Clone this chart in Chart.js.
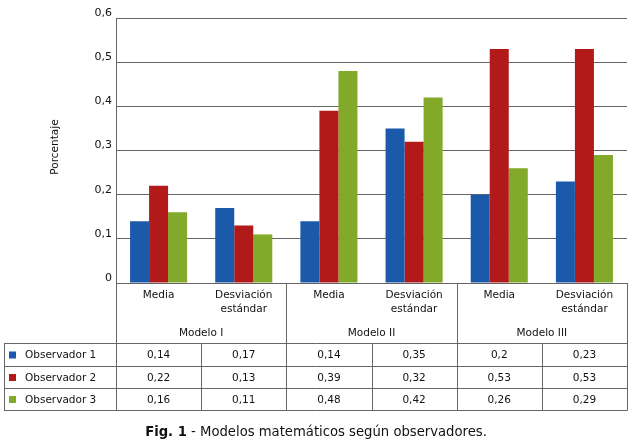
<!DOCTYPE html>
<html>
<head>
<meta charset="utf-8">
<script src="https://cdn.jsdelivr.net/npm/chart.js@4"></script>
<style>
  body { margin: 0; background: #fff; }
  #wrap { width: 633px; height: 443px; }
</style>
</head>
<body>
<div id="wrap"><canvas id="chart" width="633" height="443"></canvas></div>
<script>
// Chart data
const categories = ["Media", ["Desviación", "estándar"], "Media", ["Desviación", "estándar"], "Media", ["Desviación", "estándar"]];
const groups = ["Modelo I", "Modelo II", "Modelo III"];
const seriesNames = ["Observador 1", "Observador 2", "Observador 3"];
const observador1 = [0.14, 0.17, 0.14, 0.35, 0.2, 0.23];
const observador2 = [0.22, 0.13, 0.39, 0.32, 0.53, 0.53];
const observador3 = [0.16, 0.11, 0.48, 0.42, 0.26, 0.29];
const seriesColors = ["#1b5aab", "#b21a1a", "#82a929"];

const FONT = "DejaVu Sans, Verdana, sans-serif";
const LINE = "#666666";

function fmt(v) {
  return String(v).replace(".", ",");
}

// Draws category labels, data table, legend keys and caption under the plot
const tablePlugin = {
  id: "tablePlugin",
  afterDraw(chart) {
    const ctx = chart.ctx;
    const x = chart.scales.x;
    const area = chart.chartArea;
    const step = (area.right - area.left) / categories.length;
    const rowLines = [343, 366, 388, 410];
    const tableLeft = 4;

    ctx.save();
    ctx.strokeStyle = LINE;
    ctx.lineWidth = 1;

    // horizontal table lines
    rowLines.forEach((y) => {
      ctx.beginPath();
      ctx.moveTo(tableLeft, y + 0.5);
      ctx.lineTo(Math.round(area.right) + 0.5, y + 0.5);
      ctx.stroke();
    });

    // vertical lines
    for (let i = 0; i <= categories.length; i++) {
      const px = Math.round(area.left + i * step) + 0.5;
      const top = i % 2 === 0 ? area.bottom : rowLines[0];
      ctx.beginPath();
      ctx.moveTo(px, top);
      ctx.lineTo(px, rowLines[3] + 0.5);
      ctx.stroke();
    }
    ctx.beginPath();
    ctx.moveTo(tableLeft + 0.5, rowLines[0]);
    ctx.lineTo(tableLeft + 0.5, rowLines[3] + 0.5);
    ctx.stroke();

    ctx.fillStyle = "#111";
    ctx.font = "10.5px " + FONT;
    ctx.textAlign = "center";
    ctx.textBaseline = "middle";

    // category labels
    categories.forEach((c, i) => {
      const cx = x.getPixelForValue(i);
      const lines = Array.isArray(c) ? c : [c];
      lines.forEach((l, j) => ctx.fillText(l, cx, 295 + j * 14));
    });

    // group labels
    groups.forEach((g, i) => {
      const cx = area.left + (i * 2 + 1) * step;
      ctx.fillText(g, cx, 333);
    });

    // table rows
    const rows = [observador1, observador2, observador3];
    rows.forEach((vals, r) => {
      const cy = (rowLines[r] + rowLines[r + 1]) / 2 + 1;
      ctx.fillStyle = seriesColors[r];
      ctx.fillRect(9, cy - 4, 7, 7);
      ctx.fillStyle = "#111";
      ctx.textAlign = "left";
      ctx.fillText(seriesNames[r], 25, cy);
      ctx.textAlign = "center";
      vals.forEach((v, i) => {
        ctx.fillText(fmt(v), x.getPixelForValue(i), cy);
      });
    });

    // y axis title
    ctx.save();
    ctx.translate(55, 147);
    ctx.rotate(-Math.PI / 2);
    ctx.fillText("Porcentaje", 0, 0);
    ctx.restore();

    // caption
    const bold = "Fig. 1";
    const rest = " - Modelos matemáticos según observadores.";
    ctx.font = "bold 13.2px " + FONT;
    const wb = ctx.measureText(bold).width;
    ctx.font = "13.2px " + FONT;
    const wr = ctx.measureText(rest).width;
    const startX = 316 - (wb + wr) / 2;
    ctx.textAlign = "left";
    ctx.font = "bold 13.2px " + FONT;
    ctx.fillText(bold, startX, 433);
    ctx.font = "13.2px " + FONT;
    ctx.fillText(rest, startX + wb, 433);

    ctx.restore();
  },
};

const ctx = document.getElementById("chart").getContext("2d");
const chart = new Chart(ctx, {
  type: "bar",
  data: {
    labels: categories,
    datasets: [
      { label: seriesNames[0], data: observador1, backgroundColor: seriesColors[0] },
      { label: seriesNames[1], data: observador2, backgroundColor: seriesColors[1] },
      { label: seriesNames[2], data: observador3, backgroundColor: seriesColors[2] },
    ],
  },
  options: {
    responsive: false,
    animation: false,
    devicePixelRatio: 1,
    layout: { padding: { left: 0, top: 18, right: 6, bottom: 160 } },
    datasets: { bar: { categoryPercentage: 0.67, barPercentage: 1 } },
    plugins: { legend: { display: false }, tooltip: { enabled: false } },
    scales: {
      x: { display: false },
      y: {
        min: 0,
        max: 0.6,
        afterFit(scale) {
          scale.width = 116;
        },
        ticks: {
          stepSize: 0.1,
          padding: 4,
          labelOffset: -5,
          color: "#111",
          font: { family: FONT, size: 11 },
          callback: (v) => (v === 0 ? "0" : v.toFixed(1).replace(".", ",")),
        },
        grid: { color: LINE, drawTicks: false },
        border: { display: true, color: LINE },
      },
    },
  },
  plugins: [tablePlugin],
});
</script>
</body>
</html>
